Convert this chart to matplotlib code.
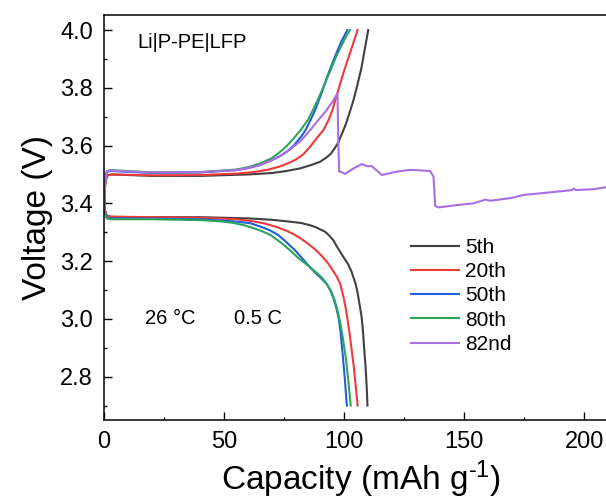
import matplotlib
matplotlib.use('Agg')
import matplotlib.pyplot as plt
from matplotlib.ticker import MultipleLocator

plt.rcParams['font.family'] = ['Liberation Sans', 'DejaVu Sans']
plt.rcParams['mathtext.fontset'] = 'custom'
plt.rcParams['mathtext.rm'] = 'Liberation Sans'
plt.rcParams['mathtext.it'] = 'Liberation Sans:italic'

# charge curves (capacity, voltage)
cap_5_ch = [0, 0.4, 1.2, 3, 20, 40, 60, 70, 76, 81.7, 86, 90, 92.5, 94.5, 96, 97.5, 99, 100.5, 102.3, 103.9, 105.5, 107.2, 108.7, 110]
v_5_ch = [3.37, 3.46, 3.497, 3.50, 3.495, 3.495, 3.50, 3.505, 3.512, 3.521, 3.532, 3.544, 3.558, 3.572, 3.59, 3.61, 3.64, 3.67, 3.715, 3.758, 3.81, 3.87, 3.94, 4.0]

cap_20_ch = [0, 0.4, 1.2, 3, 20, 40, 55, 62, 68, 73, 77, 80, 83, 85.8, 88.5, 91.4, 93.5, 95, 96.3, 98, 100, 102, 104, 105.6]
v_20_ch = [3.37, 3.46, 3.495, 3.50, 3.497, 3.498, 3.503, 3.508, 3.516, 3.527, 3.54, 3.552, 3.57, 3.596, 3.625, 3.654, 3.689, 3.72, 3.758, 3.805, 3.86, 3.91, 3.96, 4.0]

cap_50_ch = [0, 0.4, 1.2, 3, 20, 40, 55, 60, 65, 70, 73, 76, 79, 82, 84, 85.8, 88, 90.5, 93, 96, 98.8, 101.3]
v_50_ch = [3.37, 3.47, 3.51, 3.512, 3.505, 3.507, 3.515, 3.522, 3.533, 3.55, 3.562, 3.578, 3.60, 3.63, 3.655, 3.685, 3.725, 3.78, 3.84, 3.905, 3.96, 4.0]

cap_80_ch = [0, 0.4, 1.2, 3, 20, 40, 55, 60, 65, 70, 73.3, 76, 79, 82, 85, 88, 91, 94, 97, 100, 102.4]
v_80_ch = [3.37, 3.47, 3.512, 3.515, 3.507, 3.508, 3.517, 3.525, 3.538, 3.557, 3.578, 3.598, 3.625, 3.655, 3.69, 3.74, 3.795, 3.855, 3.915, 3.965, 4.0]

cap_82_ch = [0, 0.4, 1.2, 3, 20, 40, 55, 60, 65, 70, 74, 78, 81.7, 85, 89.3, 92, 95, 97.2, 97.6, 97.9, 98.3, 100.4,
             103.9, 107.4, 109.4, 111.5, 115.7, 122, 127.5, 135.8, 137.2, 137.9, 139.3, 147, 153.9, 158.8,
             160.8, 169.2, 174.7, 184.4, 194.9, 195.6, 196.5, 203.9, 209.2, 214]
v_82_ch = [3.37, 3.47, 3.512, 3.513, 3.507, 3.508, 3.515, 3.522, 3.533, 3.55, 3.567, 3.59, 3.615, 3.645, 3.689, 3.715, 3.75, 3.78, 3.60, 3.51, 3.510, 3.502,
           3.521, 3.536, 3.529, 3.529, 3.498, 3.51, 3.516, 3.512, 3.492, 3.391, 3.386, 3.394, 3.40, 3.413,
           3.409, 3.418, 3.429, 3.437, 3.446, 3.451, 3.446, 3.449, 3.456, 3.46]

# discharge curves
cap_5_dis = [0, 0.4, 1.2, 3, 20, 40, 60, 70, 78, 82, 85.5, 88, 90, 92, 93.6, 95.5, 97, 98.5, 100, 101.6, 103, 104, 104.8, 105.6,
             106.4, 107.2, 107.8, 108.3, 108.9, 109.4, 109.7]
v_5_dis = [3.41, 3.375, 3.357, 3.353, 3.352, 3.352, 3.348, 3.343, 3.336, 3.332, 3.325, 3.318, 3.31, 3.302, 3.29, 3.272, 3.25, 3.23, 3.21, 3.19, 3.165, 3.14, 3.12, 3.09,
           3.05, 3.01, 2.96, 2.90, 2.835, 2.76, 2.70]

cap_20_dis = [0, 0.4, 1.2, 3, 20, 40, 55, 62, 67, 72, 76, 79, 82, 85, 88, 91, 93.5, 95.5, 97, 98.4, 99.6, 100.8, 101.7, 102.4, 103.3, 104, 105, 105.6]
v_20_dis = [3.41, 3.375, 3.357, 3.354, 3.352, 3.35, 3.345, 3.338, 3.33, 3.318, 3.305, 3.293, 3.278, 3.26, 3.24, 3.215, 3.19, 3.165, 3.145, 3.12, 3.08, 3.03, 2.98, 2.94, 2.88, 2.835, 2.75, 2.70]

cap_50_dis = [0, 0.4, 1.2, 3, 20, 40, 50, 56, 61, 65, 69, 72.6, 76, 79.5, 83, 85.5, 88, 90.5, 92.8, 94.2, 95.4, 96.5, 97.6, 98.5, 99.2, 100.2, 101.1]
v_50_dis = [3.41, 3.37, 3.35, 3.348, 3.347, 3.345, 3.34, 3.336, 3.331, 3.32, 3.307, 3.29, 3.265, 3.238, 3.205, 3.181, 3.16, 3.14, 3.12, 3.10, 3.075, 3.045, 3.008, 2.955, 2.893, 2.80, 2.70]

cap_80_dis = [0, 0.4, 1.2, 3, 20, 40, 48, 53.3, 58, 62, 66, 69.4, 74, 77.5, 81, 85.5, 88.5, 91, 92.8, 94.5, 96, 97.3, 98.4, 99.7, 100.8, 101.8, 102.7]
v_80_dis = [3.41, 3.365, 3.347, 3.345, 3.345, 3.342, 3.338, 3.333, 3.325, 3.315, 3.303, 3.29, 3.262, 3.237, 3.21, 3.181, 3.16, 3.14, 3.12, 3.095, 3.065, 3.025, 2.985, 2.92, 2.858, 2.78, 2.70]

cycles = ['5th', '20th', '50th', '80th', '82nd']
colors = ['#404040', '#f03a3a', '#1f5fd8', '#2ea35a', '#a86ee4']

fig = plt.figure(figsize=(6.06, 5.0), dpi=100)
ax = fig.add_axes([104 / 606, 80 / 500, 514 / 606, 405 / 500])

charge = [(cap_5_ch, v_5_ch), (cap_20_ch, v_20_ch), (cap_50_ch, v_50_ch), (cap_80_ch, v_80_ch), (cap_82_ch, v_82_ch)]
discharge = [(cap_5_dis, v_5_dis), (cap_20_dis, v_20_dis), (cap_50_dis, v_50_dis), (cap_80_dis, v_80_dis), None]

for i in range(len(cycles)):
    ax.plot(charge[i][0], charge[i][1], color=colors[i], lw=1.5, label=cycles[i])
    if discharge[i] is not None:
        ax.plot(discharge[i][0], discharge[i][1], color=colors[i], lw=1.5)

ax.set_xlim(0, 214)
ax.set_ylim(2.65, 4.052)
ax.xaxis.set_major_locator(MultipleLocator(50))
ax.xaxis.set_minor_locator(MultipleLocator(25))
ax.yaxis.set_major_locator(MultipleLocator(0.2))
ax.yaxis.set_minor_locator(MultipleLocator(0.1))
ax.tick_params(which='both', direction='in', width=1.0, labelsize=17, pad=8)
ax.tick_params(which='major', length=5.5)
ax.tick_params(which='minor', length=2.5)
for s in ['left', 'bottom', 'top']:
    ax.spines[s].set_linewidth(1.1)
ax.spines['right'].set_visible(False)

ax.set_xlabel('Capacity (mAh g$^{\u2010\\mathrm{1}}$)', fontsize=24, labelpad=4)
ax.set_ylabel('Voltage (V)', fontsize=24, labelpad=5)

ax.text(13.75, 3.958, 'Li|P-PE|LFP', fontsize=14.5, ha='left', va='center')
ax.text(17.1, 3.0, '26 °C', fontsize=14.5, ha='left', va='center')
ax.text(54.2, 3.0, '0.5 C', fontsize=14.5, ha='left', va='center')

ax.legend(loc='upper left', bbox_to_anchor=(411 / 606, 1 - 238 / 500), bbox_transform=fig.transFigure,
          frameon=False, fontsize=15, handlelength=2.3, handletextpad=0.3, labelspacing=0.25,
          borderpad=0, borderaxespad=0)

fig.savefig('out.png', dpi=100)
